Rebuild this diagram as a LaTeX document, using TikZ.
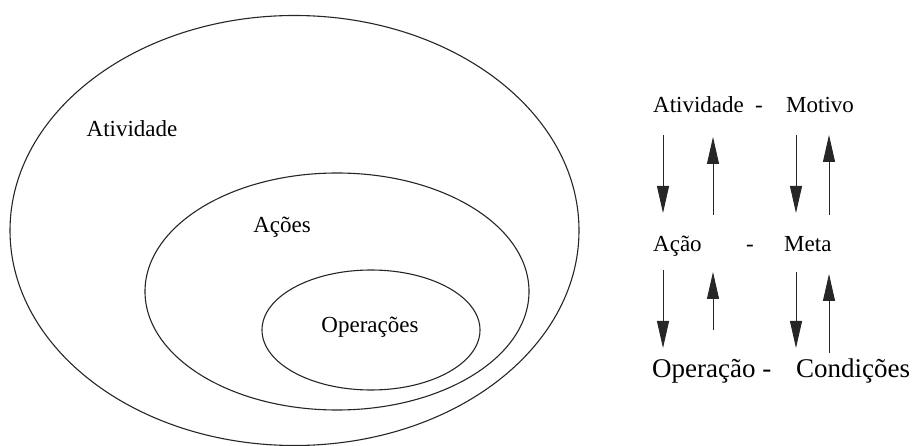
\documentclass[tikz,border=0pt]{standalone}
\usepackage{fontspec}
\setmainfont{Liberation Serif}
\usepackage{tikz}
\usetikzlibrary{positioning,arrows.meta}

\begin{document}
\begin{tikzpicture}[x=1pt, y=-1pt,
        ring/.style={draw=black!85, line width=1.1pt},
        label/.style={inner sep=0pt, font=\rmfamily\fontsize{23}{26}\selectfont},
        biglabel/.style={inner sep=0pt, font=\rmfamily\fontsize{27}{30}\selectfont},
        row/.style={label, anchor=base west},
        arrow/.style={-{Triangle[length=27pt, width=12pt]}, line width=0.9pt, black!85}
    ]
    \useasboundingbox (0,0) rectangle (913,446);

    % Nested sets
    \draw[ring] (294.5,230.5) ellipse [x radius=284.5, y radius=215];
    \draw[ring] (337,291.5) ellipse [x radius=192, y radius=118.5];
    \draw[ring] (371,330) ellipse [x radius=109, y radius=60];

    \node[label] (ativ) at (132,129) {Atividade};
    \node[label] (acoes) at (282,227) {Ações};
    \node[label] (oper) at (370,327) {Operações};

    % Right column
    \node[row] (atividade) at (653,113) {Atividade};
    \node[row] (d1) at (755,113) {-};
    \node[row] (motivo) at (786,113) {Motivo};

    \node[row] (acao) at (653,252) {Ação};
    \node[row] (d2) at (746,252) {-};
    \node[row] (meta) at (784,252) {Meta};

    \node[biglabel, anchor=base west] (operacao) at (652,377) {Operação -};
    \node[biglabel, anchor=base west] (condicoes) at (796,377) {Condições};

    % Arrow ends
    \coordinate (a1) at (663,135);  \coordinate (a2) at (663,213);
    \coordinate (b1) at (713,215);  \coordinate (b2) at (713,137);
    \coordinate (c1) at (796,135);  \coordinate (c2) at (796,213);
    \coordinate (e1) at (829,215);  \coordinate (e2) at (829,135);

    \coordinate (f1) at (663,270);  \coordinate (f2) at (663,348);
    \coordinate (g1) at (713,330);  \coordinate (g2) at (713,272);
    \coordinate (h1) at (796,272);  \coordinate (h2) at (796,348);
    \coordinate (k1) at (829,353);  \coordinate (k2) at (829,274);

    % Arrows
    \foreach \s/\t in {a1/a2, b1/b2, c1/c2, e1/e2, f1/f2, g1/g2, h1/h2, k1/k2}
        \draw[arrow] (\s) -- (\t);
\end{tikzpicture}
\end{document}
